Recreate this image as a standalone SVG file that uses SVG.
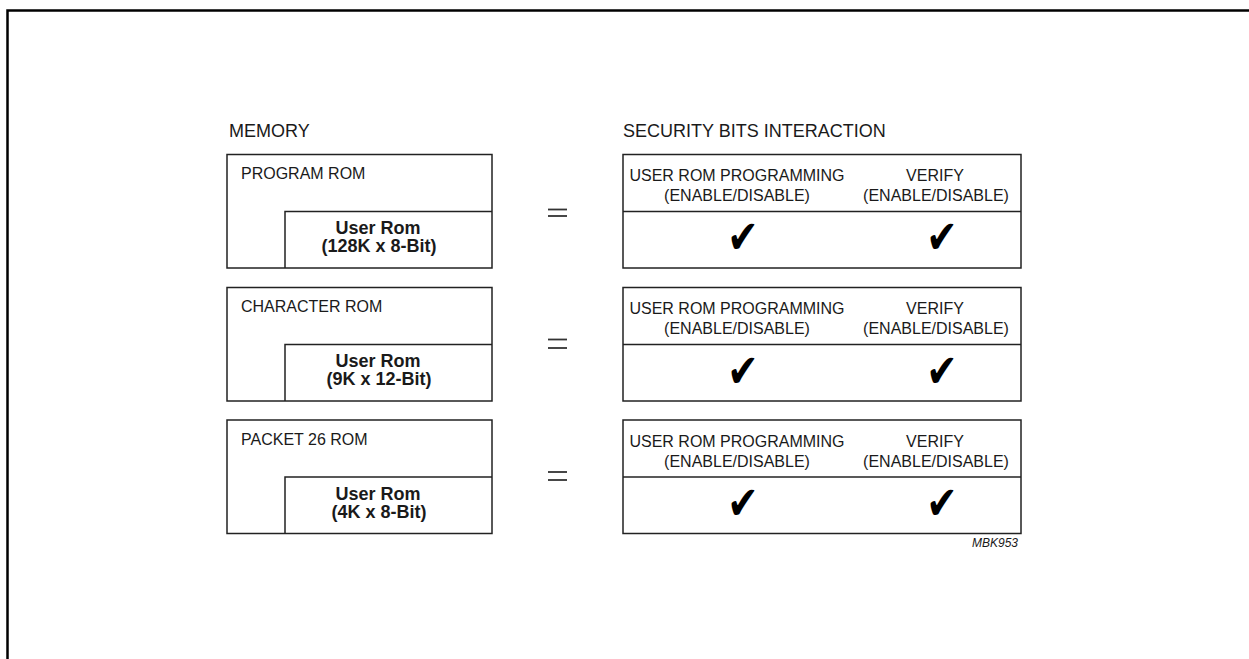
<svg xmlns="http://www.w3.org/2000/svg" width="1249" height="659" viewBox="0 0 1249 659">
<style>
.frame{fill:none;stroke:#000;stroke-width:2.5}
.box{fill:#fff;stroke:#222;stroke-width:1.5}
.ln{stroke:#222;stroke-width:1.5;fill:none}
.eq{stroke:#333;stroke-width:1.8}
text{font-family:"Liberation Sans",Arial,sans-serif;fill:#1a1a1a}
.title{font-size:18px}
.lbl{font-size:16px}
.hdr{font-size:16px;text-anchor:middle}
.ur{font-size:18px;font-weight:bold;text-anchor:middle}
.chk{font-family:"DejaVu Sans",sans-serif;font-size:34px;text-anchor:middle;fill:#000}
.id{font-size:12px;font-style:italic;text-anchor:end}
</style>
<rect x="0" y="0" width="1249" height="659" fill="#fff"/>
<path class="frame" d="M7.5 670 V10.5 H1260"/>
<text class="title" x="229" y="137">MEMORY</text>
<text class="title" x="623" y="137">SECURITY BITS INTERACTION</text>

<g id="mem1">
<rect class="box" x="227" y="154.5" width="265" height="113.5"/>
<path class="ln" d="M285 268 V211.5 H492"/>
<text class="lbl" x="241" y="179">PROGRAM ROM</text>
<text class="ur" x="378" y="234">User Rom</text>
<text class="ur" x="379" y="252">(128K x 8-Bit)</text>
</g>
<g id="mem2">
<rect class="box" x="227" y="287.5" width="265" height="113.5"/>
<path class="ln" d="M285 401 V344.5 H492"/>
<text class="lbl" x="241" y="312">CHARACTER ROM</text>
<text class="ur" x="378" y="367">User Rom</text>
<text class="ur" x="379" y="385">(9K x 12-Bit)</text>
</g>
<g id="mem3">
<rect class="box" x="227" y="420" width="265" height="113.5"/>
<path class="ln" d="M285 533.5 V477 H492"/>
<text class="lbl" x="241" y="445">PACKET 26 ROM</text>
<text class="ur" x="378" y="499.5">User Rom</text>
<text class="ur" x="379" y="517.5">(4K x 8-Bit)</text>
</g>

<g id="eq1"><line class="eq" x1="548" y1="209.5" x2="567" y2="209.5"/><line class="eq" x1="548" y1="216" x2="567" y2="216"/></g>
<g id="eq2"><line class="eq" x1="548" y1="339.5" x2="567" y2="339.5"/><line class="eq" x1="548" y1="348" x2="567" y2="348"/></g>
<g id="eq3"><line class="eq" x1="548" y1="472" x2="567" y2="472"/><line class="eq" x1="548" y1="480" x2="567" y2="480"/></g>

<g id="sec1">
<rect class="box" x="623" y="154.5" width="398" height="113.5"/>
<line class="ln" x1="623" y1="211.5" x2="1021" y2="211.5"/>
<text class="hdr" x="737" y="181">USER ROM PROGRAMMING</text>
<text class="hdr" x="737" y="201">(ENABLE/DISABLE)</text>
<text class="hdr" x="935" y="181">VERIFY</text>
<text class="hdr" x="936" y="201">(ENABLE/DISABLE)</text>
<text class="chk" transform="translate(743,253) scale(1.1,1.36)">✔</text>
<text class="chk" transform="translate(942,253) scale(1.1,1.36)">✔</text>
</g>
<g id="sec2">
<rect class="box" x="623" y="287.5" width="398" height="113.5"/>
<line class="ln" x1="623" y1="344.5" x2="1021" y2="344.5"/>
<text class="hdr" x="737" y="314">USER ROM PROGRAMMING</text>
<text class="hdr" x="737" y="334">(ENABLE/DISABLE)</text>
<text class="hdr" x="935" y="314">VERIFY</text>
<text class="hdr" x="936" y="334">(ENABLE/DISABLE)</text>
<text class="chk" transform="translate(743,387) scale(1.1,1.36)">✔</text>
<text class="chk" transform="translate(942,387) scale(1.1,1.36)">✔</text>
</g>
<g id="sec3">
<rect class="box" x="623" y="420" width="398" height="113.5"/>
<line class="ln" x1="623" y1="477" x2="1021" y2="477"/>
<text class="hdr" x="737" y="447">USER ROM PROGRAMMING</text>
<text class="hdr" x="737" y="467">(ENABLE/DISABLE)</text>
<text class="hdr" x="935" y="447">VERIFY</text>
<text class="hdr" x="936" y="467">(ENABLE/DISABLE)</text>
<text class="chk" transform="translate(743,519) scale(1.1,1.36)">✔</text>
<text class="chk" transform="translate(942,519) scale(1.1,1.36)">✔</text>
</g>
<text class="id" x="1018" y="547">MBK953</text>
</svg>
